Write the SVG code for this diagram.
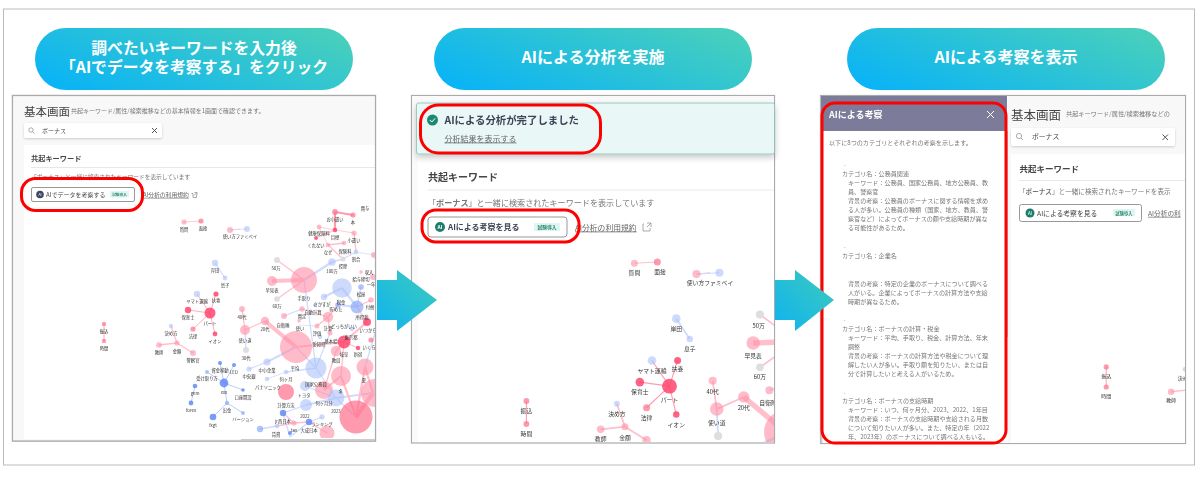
<svg xmlns="http://www.w3.org/2000/svg" width="1200" height="478" viewBox="0 0 1200 478">
<style>
text{font-family:"Noto Sans CJK JP","Noto Sans",sans-serif;fill:#444}
.pill{fill:url(#pg)}
.pt{fill:#fff;font-weight:700;font-size:16px;text-anchor:middle}
.pt2{font-size:15.8px}
.frame{fill:#fff;stroke:#aaa;stroke-width:1.2}
.red{fill:none;stroke:#f00;stroke-width:3}
.arrow{fill:url(#ag)}
.ln{stroke:#e8e8e8;stroke-width:1}
.btn{fill:#fff;stroke:#999;stroke-width:1}
.badge{fill:#dff5ef}
.bt{fill:#2a8a70;font-weight:700}
.link{fill:#666;text-decoration:underline}
.ic{fill:none;stroke:#888;stroke-width:.7}
.x{fill:none;stroke:#555;stroke-width:1}
.sub{fill:#777}
.nd text{font-size:4.3px;text-anchor:middle;fill:#333}
.e path{fill:none}
.ep{stroke:#ffc0cc}.er{stroke:#ff9bb0}.eb{stroke:#d0dcfc}.es{stroke:#a9c0f8}
.w1{stroke-width:.8}.w2{stroke-width:1.3}.w3{stroke-width:2.2}.w5{stroke-width:4}
.p1{fill:#ff3f68;fill-opacity:.82}.p2{fill:#ff6a88;fill-opacity:.68}.p3{fill:#ff8ea5;fill-opacity:.6}
.b1{fill:#5c87f5;fill-opacity:.82}.b2{fill:#85a5f6;fill-opacity:.65}.b3{fill:#a8bffa;fill-opacity:.58}
.g{fill:#dedede}
.b{fill:#777;font-size:6.1px}
</style>
<defs>
<linearGradient id="pg" x1="0" y1="0.75" x2="1" y2="0.25"><stop offset="0" stop-color="#0bb4f4"/><stop offset="1" stop-color="#47cfbd"/></linearGradient>
<linearGradient id="ag" x1="0" y1="1" x2="1" y2="0"><stop offset="0" stop-color="#0fb3f0"/><stop offset="1" stop-color="#3dcbbb"/></linearGradient>
<filter id="sh" x="-5%" y="-20%" width="110%" height="150%"><feDropShadow dx="0" dy="1" stdDeviation="1.2" flood-color="#000" flood-opacity=".18"/></filter>
<filter id="sh2" x="-5%" y="-20%" width="110%" height="150%"><feDropShadow dx="0" dy="3" stdDeviation="3" flood-color="#000" flood-opacity=".22"/></filter>
<filter id="soft" filterUnits="userSpaceOnUse" x="0" y="90" width="1200" height="360"><feGaussianBlur stdDeviation="0.3"/></filter>
<clipPath id="c1"><rect x="24" y="205" width="351" height="233"/></clipPath>
<clipPath id="c2"><rect x="418" y="243" width="356" height="199"/></clipPath>
<clipPath id="c3"><rect x="1011" y="226" width="174" height="217"/></clipPath>
<clipPath id="c3b"><rect x="1008" y="96" width="177" height="347"/></clipPath>
<g id="graph">
<g id="connectors" class="e">
<path class="ep w1" d="M184 222L201 221M230 230L240 229M319 227L335 230L354 233M319 227L328 245"/>
<path class="eb w1" d="M230 230L247 229M356 252L374 255M299 325L317 326M267 379L286 372"/>
<path class="eb w2" d="M215 263L225 278M249 369L267 362M286 372L316 368M302 309L284 316M356 252L343 259M332 262L343 259"/>
<path class="er w1" d="M197 294L210 313M216 294L210 313M188 310L210 313M193 329L210 313M215 334L210 313M104 324L104 341"/>
<path class="ep w2" d="M171 326L177 343M159 345L177 343M177 343L193 353M242 309L245 330M245 330L265 321M302 309L328 317M354 233L356 252M344 243L328 245M328 245L343 259M316 238L335 230"/>
<path class="eb w2" d="M245 330L246 350"/>
<path class="es w1" d="M220 363L224 383M234 365L224 383M207 372L224 383M243 390L224 383M227 403L224 383M227 403L243 413M227 403L213 417M195 386L191 403"/>
<path class="ep w5" d="M265 321L296 347M272 281L304 280M356 417L373 393"/>
<path class="ep w2" d="M277 260L304 280M277 299L304 280"/>
<path class="er w3" d="M335 212L353 215M335 212L335 230"/>
<path class="eb w3" d="M296 347L267 362M332 262L304 280M342 288L324 297M342 288L357 307M357 307L338 305M336 398L373 393M306 405L336 398"/>
<path class="eb w2" d="M304 280L316 368M361 287L357 307M316 368L336 398M316 368L330 333M365 367L376 330M336 398L356 417M305 386L336 398M306 405L283 413M277 426L260 429M309 422L322 417M309 422L290 437M283 413L290 437M296 347L316 368"/>
<path class="ep w3" d="M296 347L344 342M344 342L367 322M341 376L356 417M365 367L356 417M341 376L324 390M373 393L365 367"/>
<path class="ep w2" d="M328 317L338 305M328 317L330 333M317 326L328 317M344 342L336 351M344 342L358 348M336 351L324 390M344 342L341 376M283 413L294 423M294 423L277 426M309 422L294 423M327 433L309 422M357 307L371 300M357 307L367 322"/>
</g>
<g id="graph-nodes" class="nd">
<circle class="p3" cx="184" cy="222" r="2.6"/><circle class="p2" cx="201" cy="221" r="2.6"/>
<circle class="p3" cx="230" cy="230" r="3"/><circle class="b3" cx="247" cy="229" r="3"/>
<circle class="b3" cx="215" cy="263" r="3.2"/><circle class="b3" cx="225" cy="278" r="2.4"/>
<circle class="b3" cx="197" cy="294" r="3.2"/><circle class="p1" cx="216" cy="294" r="2.6"/><circle class="p1" cx="210" cy="313" r="5.5"/><circle class="p1" cx="188" cy="310" r="3.2"/><circle class="p2" cx="193" cy="329" r="2.6"/><circle class="p1" cx="215" cy="334" r="2.4"/>
<circle class="p2" cx="104" cy="324" r="2.2"/><circle class="p2" cx="104" cy="341" r="2.2"/>
<circle class="b3" cx="171" cy="326" r="2.2"/><circle class="p3" cx="177" cy="343" r="2.6"/><circle class="p3" cx="159" cy="345" r="2.8"/><circle class="p3" cx="193" cy="353" r="3"/>
<circle class="b1" cx="220" cy="363" r="2"/><circle class="b1" cx="234" cy="365" r="2"/><circle class="b2" cx="207" cy="372" r="2"/><circle class="b1" cx="224" cy="383" r="4.4"/><circle class="b1" cx="243" cy="390" r="1.8"/><circle class="b2" cx="227" cy="403" r="2.2"/><circle class="b2" cx="243" cy="413" r="2"/><circle class="b1" cx="213" cy="417" r="3.3"/><circle class="b1" cx="195" cy="386" r="2.3"/><circle class="b1" cx="191" cy="403" r="2.4"/>
<circle class="p3" cx="242" cy="309" r="3"/><circle class="p3" cx="245" cy="330" r="5"/><circle class="g" cx="246" cy="350" r="3"/><circle class="p3" cx="265" cy="321" r="4.2"/>
<circle class="p2" cx="335" cy="212" r="2.9"/><circle class="p2" cx="353" cy="215" r="2.6"/><circle class="p1" cx="335" cy="230" r="2.3"/><circle class="p3" cx="319" cy="227" r="2.4"/><circle class="p1" cx="316" cy="238" r="1.9"/><circle class="p3" cx="354" cy="233" r="2.6"/><circle class="p3" cx="328" cy="245" r="2.3"/><circle class="p3" cx="344" cy="243" r="2.3"/><circle class="b3" cx="356" cy="252" r="2.4"/><circle class="g" cx="343" cy="259" r="2.5"/><circle class="b3" cx="332" cy="262" r="3.7"/>
<circle class="g" cx="277" cy="260" r="3"/><circle class="p3" cx="304" cy="280" r="13"/><circle class="p3" cx="272" cy="281" r="5"/><circle class="g" cx="277" cy="299" r="2.8"/>
<circle class="b3" cx="342" cy="288" r="9.8"/><circle class="b3" cx="324" cy="297" r="3.2"/><circle class="b2" cx="338" cy="305" r="2.8"/><circle class="b2" cx="357" cy="307" r="6.5"/><circle class="b2" cx="361" cy="287" r="2.8"/><circle class="p3" cx="371" cy="300" r="2.8"/><circle class="p3" cx="361" cy="272" r="1.8"/><circle class="p3" cx="373" cy="277" r="3"/><circle class="p3" cx="374" cy="255" r="3"/>
<circle class="p3" cx="328" cy="317" r="5.2"/><circle class="p3" cx="302" cy="309" r="2.7"/><circle class="b2" cx="315" cy="305" r="1.8"/><circle class="p3" cx="284" cy="316" r="3"/><circle class="p3" cx="317" cy="326" r="2.5"/><circle class="p3" cx="330" cy="333" r="2.5"/><circle class="p3" cx="299" cy="321" r="1.8"/><circle class="p1" cx="367" cy="322" r="4"/><circle class="b3" cx="352" cy="329" r="2.2"/><circle class="p2" cx="371" cy="340" r="2.6"/>
<circle class="p3" cx="296" cy="347" r="16"/><circle class="b3" cx="267" cy="362" r="3.6"/><circle class="b3" cx="249" cy="369" r="2.6"/><circle class="b3" cx="286" cy="372" r="2.3"/><circle class="b3" cx="267" cy="379" r="2.3"/><circle class="b3" cx="316" cy="368" r="10.5"/><circle class="b3" cx="320" cy="337" r="2.2"/>
<circle class="p1" cx="344" cy="342" r="6.5"/><circle class="p3" cx="336" cy="351" r="5.2"/><circle class="p1" cx="358" cy="348" r="2.2"/><circle class="p3" cx="341" cy="376" r="10"/><circle class="p3" cx="365" cy="367" r="8.5"/><circle class="p3" cx="324" cy="390" r="9"/><circle class="p2" cx="286" cy="392" r="8"/><circle class="b3" cx="305" cy="386" r="5"/><circle class="b3" cx="306" cy="405" r="6"/><circle class="b3" cx="336" cy="398" r="8.5"/><circle class="p2" cx="356" cy="417" r="16.5"/><circle class="p3" cx="375" cy="393" r="14"/>
<circle class="b1" cx="283" cy="413" r="3.2"/><circle class="b3" cx="322" cy="417" r="2.7"/><circle class="b1" cx="309" cy="422" r="3.2"/><circle class="p3" cx="294" cy="423" r="2.6"/><circle class="b3" cx="277" cy="426" r="2.4"/><circle class="b2" cx="260" cy="429" r="3.2"/><circle class="p3" cx="327" cy="433" r="7.5"/><circle class="b1" cx="290" cy="433" r="2"/>
<text x="184" y="231">質問</text><text x="203" y="230">面接</text><text x="240" y="238">使い方ファミペイ</text><text x="365" y="210">賞与</text><text x="335" y="221">お小遣い</text><text x="353" y="224">本</text><text x="319" y="235">健康保険料</text><text x="335" y="239">目標</text><text x="354" y="242">小遣い</text><text x="316" y="247">くれない</text><text x="328" y="254">なぜ</text><text x="345" y="253">保険料</text><text x="356" y="261">割合</text><text x="276" y="270">50万</text><text x="343" y="268">控除</text><text x="215" y="272">岸田</text><text x="225" y="287">息子</text><text x="332" y="273">100万</text><text x="272" y="292">早見表</text><text x="304" y="300">手取り</text><text x="277" y="308">60万</text><text x="369" y="274">収入</text><text x="361" y="281">給与締切</text><text x="371" y="286">一年</text><text x="361" y="296">松屋</text><text x="341" y="304">税金</text><text x="370" y="309">付替</text><text x="322" y="306">さかすが</text><text x="336" y="311">貯めた</text><text x="313" y="314">自動計算</text><text x="362" y="319">所得税</text>
<text x="242" y="319">40代</text><text x="265" y="331">20代</text><text x="283" y="327">自衛隊</text><text x="302" y="318">賞定</text><text x="300" y="330">使い</text><text x="328" y="330">計算</text><text x="344" y="328">どっちがいい</text><text x="368" y="332">いつから</text><text x="317" y="335">評価</text><text x="245" y="342">使い道</text><text x="246" y="360">30代</text><text x="331" y="343">基本給</text><text x="351" y="339">東京都</text><text x="319" y="346">愛知県</text><text x="369" y="349">いくら</text><text x="344" y="356">岐阜</text><text x="358" y="356">新宿</text><text x="336" y="362">教員</text><text x="295" y="370">平均</text><text x="267" y="372">中小企業</text><text x="249" y="378">中央銀</text><text x="286" y="381">何ヶ月</text><text x="364" y="382">夏</text><text x="268" y="389">パナソニック</text><text x="316" y="386">国家公務員</text><text x="341" y="393">冬</text><text x="304" y="397">トヨタ</text><text x="324" y="405">何ヶ月分</text><text x="286" y="407">計算方法</text><text x="336" y="413">2023</text><text x="305" y="418">2022</text><text x="283" y="423">jr西日本</text><text x="322" y="426">ランキング</text><text x="294" y="432">tax</text><text x="309" y="432">大成日本</text><text x="276" y="436">賃貸</text>
<text x="197" y="303">ヤマト運輸</text><text x="216" y="302">扶養</text><text x="188" y="319">保育士</text><text x="210" y="325">パート</text><text x="193" y="338">法律</text><text x="215" y="343">イオン</text><text x="104" y="333">振込</text><text x="104" y="350">時間</text><text x="171" y="335">決め方</text><text x="177" y="353">金額</text><text x="159" y="354">教師</text><text x="193" y="362">警察官</text><text x="220" y="372">資金移動</text><text x="234" y="374">LEO</text><text x="207" y="380">受け取り方</text><text x="224" y="394">xxx</text><text x="243" y="399">口座開設</text><text x="227" y="412">出金</text><text x="243" y="421">バージョン</text><text x="213" y="427">fxgt</text><text x="195" y="395">gem</text><text x="191" y="412">forex</text>
</g>
</g>
</defs>
<rect id="outer" x="3.5" y="9" width="1191" height="456" fill="#fff" stroke="#bbb" stroke-width="1"/>
<g id="pill1"><rect class="pill" x="35" y="28" width="318" height="62" rx="31"/><text class="pt pt2" x="194" y="54">調べたいキーワードを入力後</text><text class="pt pt2" x="194" y="73">「AIでデータを考察する」をクリック</text></g>
<g id="pill2"><rect class="pill" x="434" y="28" width="318" height="62" rx="31"/><text class="pt" x="593" y="63">AIによる分析を実施</text></g>
<g id="pill3"><rect class="pill" x="847" y="28" width="318" height="62" rx="31"/><text class="pt" x="1006" y="63">AIによる考察を表示</text></g>

<g id="panel1" filter="url(#soft)">
<rect class="frame" x="12.5" y="95.5" width="363" height="345.5"/>
<rect x="13" y="96" width="362" height="345" fill="#f8f8f8"/>
<rect x="24" y="145" width="351" height="294" fill="#fff"/>
<text x="24" y="116" font-size="11.5">基本画面</text>
<text class="sub" x="71" y="113" font-size="6">共起キーワード/属性/検索推移などの基本情報を1画面で確認できます。</text>
<rect x="24" y="123" width="138" height="15" rx="2" fill="#fff" filter="url(#sh)"/>
<circle class="ic" cx="31" cy="130" r="2.2"/><path class="ic" d="M32.6 131.7L34.5 133.6"/>
<text x="42" y="132.5" font-size="6">ボーナス</text>
<path class="x" d="M152 128L157 133M157 128L152 133"/>
<text x="31" y="160.5" font-size="7.2" font-weight="700">共起キーワード</text>
<path class="ln" d="M31 167.5H375"/>
<text class="sub" x="31" y="179" font-size="5.7">「ボーナス」と一緒に検索されたキーワードを表示しています</text>
<rect class="btn" x="31.5" y="187.5" width="103" height="14" rx="1.5"/>
<circle cx="40" cy="194.5" r="3.8" fill="#3d4660"/><text x="40" y="196" font-size="3.5" style="fill:#fff" text-anchor="middle">AI</text>
<text x="46" y="196.8" font-size="6">AIでデータを考察する</text>
<rect class="badge" x="110" y="191" width="19" height="6.5" rx="1"/><text class="bt" x="119.5" y="196" font-size="3.7" text-anchor="middle">試験導入</text>
<text class="link" x="143" y="196.8" font-size="5.8">AI分析の利用規約</text>
<path class="ic" d="M191.5 193.5H193V197.5H196.5V195M194.500 192.500H197V195M197 192.500L194 195.500"/>
<g clip-path="url(#c1)"><use href="#graph"/></g>
<path d="M241 439.5H375" stroke="#ccc" stroke-width="1"/>
<rect x="12.5" y="95.5" width="363" height="345.5" fill="none" stroke="#aaa" stroke-width="1.2"/>
<rect class="red" x="21.5" y="178.5" width="121" height="32" rx="14"/>
</g>

<g id="panel2" filter="url(#soft)">
<rect class="frame" x="411.5" y="95.5" width="363" height="347.5"/>
<rect x="412" y="96" width="362" height="346" fill="#fafafa"/>
<rect x="418" y="154" width="356" height="288" fill="#fff"/>
<rect x="416.5" y="103" width="358" height="51" rx="2" fill="#e9f7f6" stroke="#86bfb3" stroke-width=".8" filter="url(#sh2)"/>
<circle cx="432.5" cy="120" r="5.5" fill="#1f8a72"/><path d="M429.8 120L431.8 122L435.2 118.3" fill="none" stroke="#fff" stroke-width="1"/>
<text x="444.5" y="124" font-size="10.4" font-weight="700" style="fill:#3d4356">AIによる分析が完了しました</text>
<text class="link" x="444.5" y="141.5" font-size="8">分析結果を表示する</text>
<text x="428" y="181" font-size="10" font-weight="700">共起キーワード</text>
<path class="ln" d="M428 190H774"/>
<text class="sub" x="428" y="206" font-size="8.1">「<tspan font-weight="700">ボーナス</tspan>」と一緒に検索されたキーワードを表示しています</text>
<rect class="btn" x="428" y="217" width="139" height="20" rx="3"/>
<circle cx="440" cy="227" r="5" fill="#1f7d6a"/><text x="440" y="229" font-size="5" font-weight="700" style="fill:#fff" text-anchor="middle">AI</text>
<text x="448" y="229.8" font-size="8" font-weight="700" style="fill:#3d4356">AIによる考察を見る</text>
<rect class="badge" x="534" y="223" width="26" height="8" rx="1"/><text class="bt" x="547" y="229.3" font-size="4.8" text-anchor="middle">試験導入</text>
<text class="link" x="575" y="230.5" font-size="7.8">AI分析の利用規約</text>
<path class="ic" d="M644 224H643V231H650V228M647 223H651V227M651 223L647 227"/>
<g clip-path="url(#c2)"><use href="#graph" transform="translate(386 -36.4) scale(1.35)"/></g>
<rect class="red" x="420.5" y="105" width="180" height="48" rx="18"/>
<rect class="red" x="422" y="210" width="157" height="32" rx="14"/>
</g>

<g id="panel3" filter="url(#soft)">
<rect class="frame" x="820.5" y="95.5" width="365" height="348"/>
<g id="panel3-page" clip-path="url(#c3b)">
<rect x="1008" y="96" width="177" height="347" fill="#f8f8f8"/>
<rect x="1011" y="154" width="174" height="289" fill="#fff"/>
<text x="1011" y="120" font-size="12.5">基本画面</text>
<text class="sub" x="1066" y="116" font-size="6.2">共起キーワード/属性/検索推移などの</text>
<rect x="1011" y="128" width="164" height="18" rx="2" fill="#fff" filter="url(#sh)"/>
<circle class="ic" cx="1019" cy="136" r="2.6"/><path class="ic" d="M1021 138L1023 140"/>
<text x="1032" y="139" font-size="6.8">ボーナス</text>
<path class="x" d="M1162.5 134.5L1168 140M1168 134.5L1162.5 140"/>
<text x="1019.5" y="172" font-size="8.5" font-weight="700">共起キーワード</text>
<path class="ln" d="M1019 180.5H1185"/>
<text class="sub" x="1019" y="194" font-size="6.6">「<tspan font-weight="700">ボーナス</tspan>」と一緒に検索されたキーワードを表示</text>
<rect class="btn" x="1019.5" y="204.5" width="122" height="17" rx="2"/>
<circle cx="1030" cy="213" r="4.5" fill="#1f7d6a"/><text x="1030" y="214.8" font-size="4.5" style="fill:#fff" text-anchor="middle">AI</text>
<text x="1037" y="215.8" font-size="6.8">AIによる考察を見る</text>
<rect class="badge" x="1113" y="209" width="22" height="7" rx="1"/><text class="bt" x="1124" y="214.5" font-size="4.2" text-anchor="middle">試験導入</text>
<text class="link" x="1148" y="215.8" font-size="6.7">AI分析の利</text>
<g clip-path="url(#c3)"><use href="#graph" transform="translate(983.5 -15.4) scale(1.18)"/></g>
</g>
<g id="insight-drawer">
<rect x="821" y="96" width="187" height="347" fill="#fff"/>
<rect x="820.5" y="96" width="2" height="347" fill="#ccc"/>
<rect x="821" y="96" width="186" height="35" fill="#7c7c9a"/>
<rect x="1006" y="131" width="2" height="206" fill="#c8c8c8"/>
<text x="829" y="118" font-size="9" font-weight="700" style="fill:#fff">AIによる考察</text>
<path d="M987 111L994 118M994 111L987 118" stroke="#fff" stroke-width="1" fill="none"/>
<text class="b" x="829" y="145">以下に8つのカテゴリとそれぞれの考察を示します。</text>
<text class="b" x="844" y="166">.</text>
<text class="b" x="842" y="176">カテゴリ名：公務員関連</text>
<text class="b" x="848" y="185">キーワード：公務員、国家公務員、地方公務員、教</text>
<text class="b" x="848" y="194">員、警察官</text>
<text class="b" x="848" y="203">背景の考察：公務員のボーナスに関する情報を求め</text>
<text class="b" x="848" y="212">る人が多い。公務員の種類（国家、地方、教員、警</text>
<text class="b" x="848" y="221">察官など）によってボーナスの額や支給時期が異な</text>
<text class="b" x="848" y="230">る可能性があるため。</text>
<text class="b" x="844" y="248">.</text>
<text class="b" x="842" y="258">カテゴリ名：企業名</text>
<text class="b" x="848" y="286">背景の考察：特定の企業のボーナスについて調べる</text>
<text class="b" x="848" y="295">人がいる。企業によってボーナスの計算方法や支給</text>
<text class="b" x="848" y="304">時期が異なるため。</text>
<text class="b" x="844" y="321">.</text>
<text class="b" x="842" y="331">カテゴリ名：ボーナスの計算・税金</text>
<text class="b" x="848" y="340">キーワード：平均、手取り、税金、計算方法、年末</text>
<text class="b" x="848" y="349">調整</text>
<text class="b" x="848" y="358">背景の考察：ボーナスの計算方法や税金について理</text>
<text class="b" x="848" y="367">解したい人が多い。手取り額を知りたい、または自</text>
<text class="b" x="848" y="376">分で計算したいと考える人がいるため。</text>
<text class="b" x="844" y="394">.</text>
<text class="b" x="842" y="403">カテゴリ名：ボーナスの支給時期</text>
<text class="b" x="848" y="412">キーワード：いつ、何ヶ月分、2023、2022、1年目</text>
<text class="b" x="848" y="421">背景の考察：ボーナスの支給時期や支給される月数</text>
<text class="b" x="848" y="430">について知りたい人が多い。また、特定の年（2022</text>
<text class="b" x="848" y="439">年、2023年）のボーナスについて調べる人もいる。</text>
</g>
<rect class="red" x="822" y="103" width="184" height="340" rx="13"/>
</g>

<g id="arrows">
<polygon class="arrow" points="377,280 397,280 397,270 437,300 397,331 397,320 377,320"/>
<polygon class="arrow" points="775,280 795,280 795,270 834,300 795,331 795,320 775,320"/>
</g>
</svg>
